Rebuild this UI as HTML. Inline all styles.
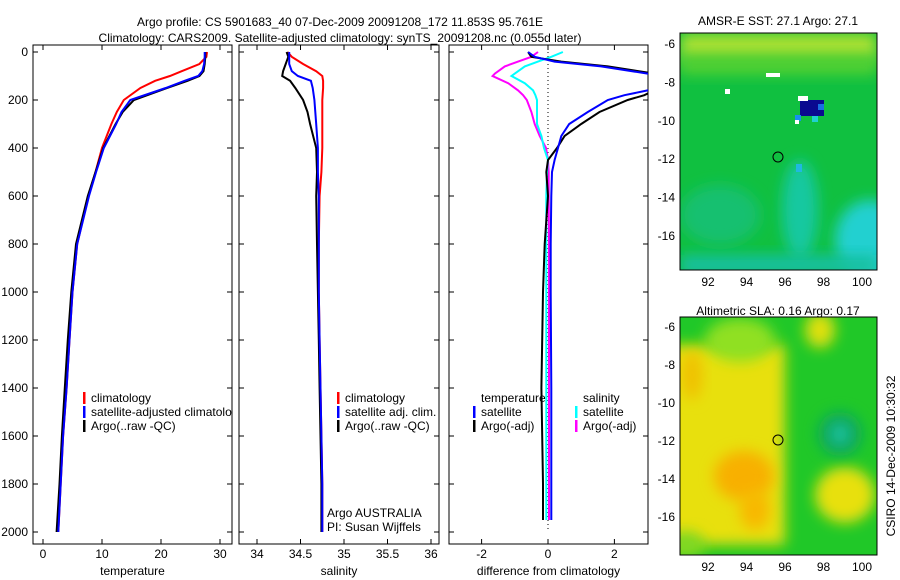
<!DOCTYPE html>
<html><head><meta charset="utf-8"><style>
body{margin:0;background:#fff}
svg{display:block;font-family:"Liberation Sans",sans-serif;font-size:12px}
</style></head><body>
<svg id="c" width="900" height="580" viewBox="0 0 900 580" xmlns="http://www.w3.org/2000/svg">
<defs>
<clipPath id="cp1"><rect x="33" y="45" width="199" height="499"/></clipPath>
<clipPath id="cp2"><rect x="239" y="45" width="200" height="499"/></clipPath>
<clipPath id="cp3"><rect x="449" y="45" width="199" height="499"/></clipPath>
<clipPath id="cm1"><rect x="680" y="33" width="197" height="237"/></clipPath>
<clipPath id="cm2"><rect x="680" y="317" width="197" height="238"/></clipPath>
<filter id="bl" x="-50%" y="-50%" width="200%" height="200%"><feGaussianBlur stdDeviation="7"/></filter>
<filter id="bs" x="-50%" y="-50%" width="200%" height="200%"><feGaussianBlur stdDeviation="2"/></filter>
</defs>
<text x="340" y="26" text-anchor="middle">Argo profile: CS 5901683_40 07-Dec-2009 20091208_172 11.853S 95.761E</text>
<text x="340" y="42" text-anchor="middle">Climatology: CARS2009. Satellite-adjusted climatology: synTS_20091208.nc (0.055d later)</text>
<g id="g"></g>
<!-- maps -->
<g clip-path="url(#cm1)">
<rect x="680" y="33" width="197" height="237" fill="#10c040"/>
<rect x="680" y="33" width="197" height="28" fill="#a8e030" filter="url(#bl)"/>
<rect x="680" y="55" width="197" height="20" fill="#50d030" filter="url(#bl)"/>
<ellipse cx="800" cy="210" rx="18" ry="50" fill="#18c8a0" filter="url(#bl)"/>
<ellipse cx="870" cy="240" rx="35" ry="40" fill="#20d0d0" filter="url(#bl)"/>
<rect x="680" y="255" width="197" height="20" fill="#18c0a0" filter="url(#bl)"/>
<ellipse cx="720" cy="215" rx="40" ry="30" fill="#18c070" filter="url(#bl)"/>
<rect x="766" y="73" width="14" height="4" fill="#fff"/>
<rect x="725" y="89" width="5" height="5" fill="#fff"/>
<rect x="800" y="100" width="24" height="16" fill="#0a0a90"/>
<rect x="798" y="96" width="10" height="5" fill="#fff"/>
<rect x="818" y="104" width="6" height="6" fill="#1870e0"/>
<rect x="795" y="115" width="6" height="6" fill="#1890f0"/>
<rect x="795" y="120" width="4" height="4" fill="#fff"/>
<rect x="812" y="116" width="6" height="6" fill="#20d0d0"/>
<rect x="796" y="164" width="6" height="8" fill="#20b8e0"/>
</g>
<g clip-path="url(#cm2)">
<rect x="680" y="317" width="197" height="238" fill="#20c828"/>
<rect x="660" y="345" width="125" height="200" fill="#e8e010" filter="url(#bl)"/>
<ellipse cx="740" cy="340" rx="35" ry="22" fill="#90e020" filter="url(#bl)"/>
<ellipse cx="744" cy="476" rx="30" ry="25" fill="#f8b000" filter="url(#bl)"/>
<ellipse cx="755" cy="510" rx="15" ry="20" fill="#f8b800" filter="url(#bl)"/>
<ellipse cx="692" cy="375" rx="10" ry="25" fill="#f0c000" filter="url(#bl)"/>
<ellipse cx="845" cy="495" rx="30" ry="28" fill="#e8e010" filter="url(#bl)"/>
<ellipse cx="820" cy="330" rx="15" ry="18" fill="#e0e010" filter="url(#bl)"/>
<ellipse cx="840" cy="434" rx="22" ry="22" fill="#10a860" filter="url(#bl)"/>
<ellipse cx="840" cy="434" rx="8" ry="9" fill="#20c8b0" filter="url(#bl)"/>
<ellipse cx="685" cy="545" rx="20" ry="14" fill="#80d820" filter="url(#bl)"/>
</g>
<circle cx="778" cy="157" r="5" fill="none" stroke="#000"/>
<circle cx="778" cy="440" r="5" fill="none" stroke="#000"/>
<rect x="680" y="33" width="197" height="237" fill="none" stroke="#000"/>
<rect x="680" y="317" width="197" height="238" fill="none" stroke="#000"/>
<text x="778" y="25" text-anchor="middle">AMSR-E SST: 27.1 Argo: 27.1</text>
<text x="778" y="315" text-anchor="middle">Altimetric SLA: 0.16 Argo: 0.17</text>
<text transform="translate(895,456) rotate(-90)" text-anchor="middle">CSIRO 14-Dec-2009 10:30:32</text>
</svg>
<script>
const depthTicks=[0,200,400,600,800,1000,1200,1400,1600,1800,2000];
const depths=[0,20,50,80,100,120,150,200,250,300,400,500,600,800,1000,1200,1400,1600,1800,2000];
const tempClim=[27.8,27.7,26.5,23.5,21.5,19,16.5,13.7,12.5,11.6,10.0,8.9,7.7,5.8,5.0,4.5,4.0,3.4,3.0,2.6];
const tempSat=[27.4,27.4,27.3,27.0,26.3,24,20.8,14.8,13.3,12.4,10.3,9.0,7.8,5.8,5.0,4.5,4.0,3.4,3.0,2.6];
const tempArgo=[27.5,27.5,27.4,27.2,26.5,24.5,21,15.4,13.5,12.3,10.2,8.9,7.6,5.6,4.8,4.2,3.7,3.2,2.8,2.3];
const salClim=[34.35,34.4,34.53,34.68,34.75,34.76,34.76,34.75,34.75,34.75,34.75,34.74,34.72,34.71,34.71,34.72,34.73,34.74,34.75,34.75];
const salSat=[34.37,34.37,34.37,34.4,34.47,34.62,34.64,34.66,34.67,34.68,34.70,34.70,34.71,34.71,34.71,34.72,34.73,34.74,34.75,34.75];
const salArgo=[34.34,34.36,34.33,34.30,34.29,34.38,34.44,34.53,34.58,34.61,34.68,34.69,34.68,34.69,34.70,34.71,34.72,34.73,34.74,34.74];
const diffDepths=[0,20,40,60,90,100,130,160,180,200,250,300,350,400,450,500,600,800,1000,1400,1800,1950];
const dTSat=[-0.6,-0.4,0.2,1.6,3.0,4.0,4.0,3.0,2.3,1.8,1.2,0.64,0.4,0.3,0.2,0.12,0.1,0.08,0.08,0.1,0.1,0.1];
const dTArgo=[-0.6,-0.5,0.4,1.8,3.2,4.0,4.0,3.2,2.9,2.4,1.55,1.0,0.5,0.27,0.0,-0.05,0.0,-0.1,-0.15,-0.2,-0.15,-0.15];
const dSSat=[0.45,0.1,-0.3,-0.7,-1.0,-1.1,-0.7,-0.45,-0.38,-0.33,-0.33,-0.33,-0.2,-0.12,0.0,-0.03,-0.05,-0.05,-0.05,-0.05,-0.05,-0.05];
const dSArgo=[-0.3,-0.5,-0.9,-1.3,-1.6,-1.67,-1.2,-0.9,-0.75,-0.64,-0.5,-0.4,-0.25,-0.06,0.0,0.02,0.02,0.03,0.03,0.03,0.03,0.03];
const lonTicks=[92,94,96,98,100];
const latTicks=[-6,-8,-10,-12,-14,-16];
const NS="http://www.w3.org/2000/svg";
const g=document.getElementById('g');
const Y=d=>52+d*0.24;
const panels=[
 {x0:33,x1:232,cp:'cp1',sx:v=>43+5.9*v,ticks:[0,10,20,30],lab:'temperature',name:'temperature-panel'},
 {x0:239,x1:439,cp:'cp2',sx:v=>257+87*(v-34),ticks:[34,34.5,35,35.5,36],lab:'salinity',name:'salinity-panel'},
 {x0:449,x1:648,cp:'cp3',sx:v=>548+33.2*v,ticks:[-2,0,2],lab:'difference from climatology',name:'difference-panel'}];
function el(t,a,p){const e=document.createElementNS(NS,t);for(const k in a)e.setAttribute(k,a[k]);(p||g).appendChild(e);return e;}
function line(p,xs,ds,col,nm){
 const pts=xs.map((v,i)=>p.sx(v).toFixed(1)+','+Y(ds[i]).toFixed(1)).join(' ');
 const e=el('polyline',{points:pts,fill:'none',stroke:col,'stroke-width':2,'clip-path':'url(#'+p.cp+')'});
 
 
}
panels.forEach((p,pi)=>{
 const fr=el('rect',{x:p.x0,y:45,width:p.x1-p.x0,height:499,fill:'none',stroke:'#000'});
 
 
 depthTicks.forEach(d=>{
  el('line',{x1:p.x0,x2:p.x0+5,y1:Y(d),y2:Y(d),stroke:'#000'});
  el('line',{x1:p.x1,x2:p.x1-5,y1:Y(d),y2:Y(d),stroke:'#000'});
  if(pi===0){const t=el('text',{x:28,y:Y(d)+4,'text-anchor':'end'});t.textContent=d;
   
   }
 });
 p.ticks.forEach(v=>{
  el('line',{x1:p.sx(v),x2:p.sx(v),y1:544,y2:539,stroke:'#000'});
  el('line',{x1:p.sx(v),x2:p.sx(v),y1:45,y2:50,stroke:'#000'});
  const t=el('text',{x:p.sx(v),y:558,'text-anchor':'middle'});t.textContent=v;
  
  
 });
 const xl=el('text',{x:(p.x0+p.x1)/2,y:575,'text-anchor':'middle'});xl.textContent=p.lab;
 
 
});
const P=panels;
line(P[0],tempClim,depths,'#f00','temp-climatology-line');
line(P[0],tempArgo,depths,'#000','temp-argo-line');
line(P[0],tempSat,depths,'#00f','temp-satellite-line');
line(P[1],salClim,depths,'#f00','sal-climatology-line');
line(P[1],salArgo,depths,'#000','sal-argo-line');
line(P[1],salSat,depths,'#00f','sal-satellite-line');
el('line',{x1:548,x2:548,y1:52,y2:532,stroke:'#000','stroke-dasharray':'1,3'});
line(P[2],dSArgo,diffDepths,'#f0f','sal-argo-diff-line');
line(P[2],dSSat,diffDepths,'#0ff','sal-satellite-diff-line');
line(P[2],dTArgo,diffDepths,'#000','temp-argo-diff-line');
line(P[2],dTSat,diffDepths,'#00f','temp-satellite-diff-line');
function leg(x,y,col,txt,clip){
 if(col)el('rect',{x:x,y:y-10,width:2.5,height:12,fill:col});
 const t=el('text',{x:x+8,y:y});t.textContent=txt;
 if(clip)t.setAttribute('clip-path','url(#'+clip+')');
 
 
}
leg(83,402,'#f00','climatology','cp1');leg(83,416,'#00f','satellite-adjusted climatology','cp1');leg(83,430,'#000','Argo(..raw -QC)','cp1');
leg(337,402,'#f00','climatology');leg(337,416,'#00f','satellite adj. clim.');leg(337,430,'#000','Argo(..raw -QC)');
leg(319,517,null,'Argo AUSTRALIA');leg(319,531,null,'PI: Susan Wijffels');
leg(473,402,null,'temperature');leg(473,416,'#00f','satellite');leg(473,430,'#000','Argo(-adj)');
leg(575,402,null,'salinity');leg(575,416,'#0ff','satellite');leg(575,430,'#f0f','Argo(-adj)');
const mx=v=>708+19.25*(v-92);
[[33,270,v=>44+19.2*(-6-v)],[317,555,v=>327+19.0*(-6-v)]].forEach(([t0,b0,my],mi)=>{
 lonTicks.forEach(v=>{
  el('line',{x1:mx(v),x2:mx(v),y1:b0,y2:b0-4,stroke:'#000'});
  el('line',{x1:mx(v),x2:mx(v),y1:t0,y2:t0+4,stroke:'#000'});
  const t=el('text',{x:mx(v),y:b0+16,'text-anchor':'middle'});t.textContent=v;
  
  
 });
 latTicks.forEach(v=>{
  el('line',{x1:680,x2:684,y1:my(v),y2:my(v),stroke:'#000'});
  el('line',{x1:877,x2:873,y1:my(v),y2:my(v),stroke:'#000'});
  const t=el('text',{x:675,y:my(v)+4,'text-anchor':'end'});t.textContent=v;
  
  
 });
});
</script>
</body></html>
